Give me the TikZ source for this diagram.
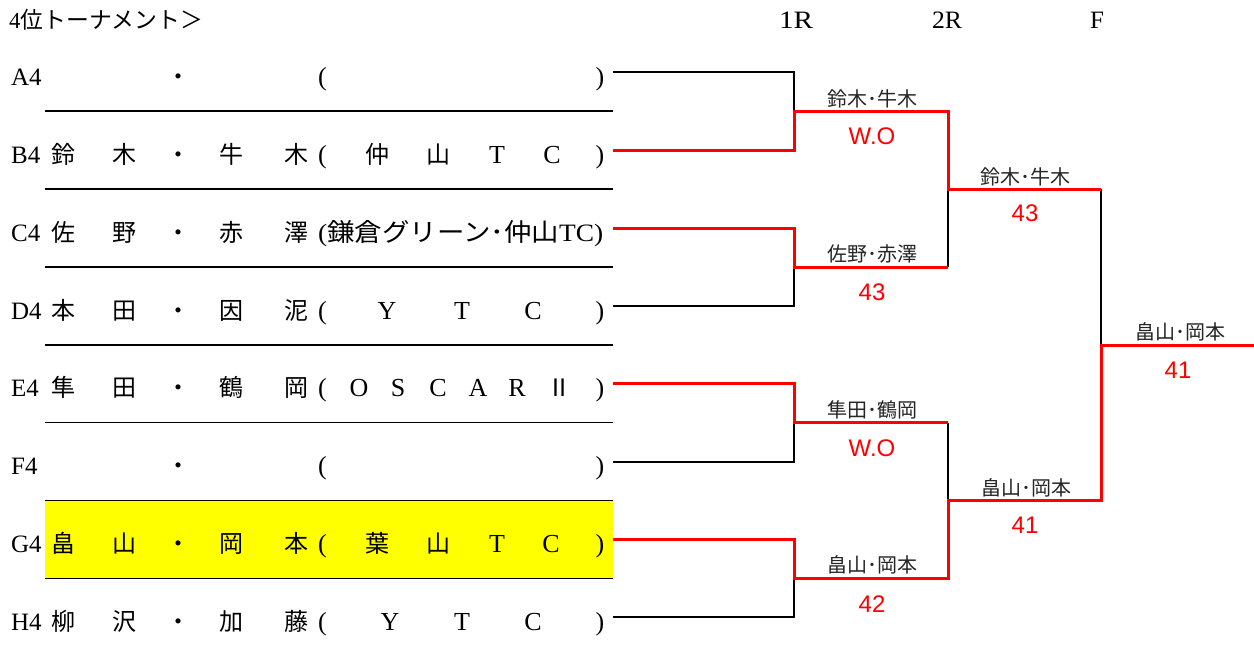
\documentclass[tikz,border=0pt]{standalone}
\usepackage{fontspec}
\usepackage{graphicx}
\setmainfont{Liberation Serif}
\newfontfamily\jp{Noto Sans CJK JP}
\newfontfamily\arial{Liberation Sans}
\definecolor{hl}{RGB}{255,255,0}
\definecolor{wred}{RGB}{255,0,0}
\tikzset{
  rowlbl/.style={anchor=base west, inner sep=0pt, font=\fontsize{25}{25}\selectfont},
  cj/.style={anchor=base, inner sep=0pt, font=\jp\fontsize{24}{24}\selectfont},
  lt/.style={anchor=base, inner sep=0pt, font=\fontsize{26}{26}\selectfont},
  sepline/.style={line width=1.3pt, black},
  blk/.style={line width=2pt, black},
  win/.style={line width=3pt, wred, line join=miter},
  mlbl/.style={anchor=base, inner sep=0pt, font=\jp\fontsize{20}{20}\selectfont, text=black!85},
  score/.style={anchor=base, inner sep=0pt, font=\arial\fontsize{24}{24}\selectfont, text=wred},
  hdr/.style={anchor=base, inner sep=0pt, font=\fontsize{25}{25}\selectfont},
}
\begin{document}
\begin{tikzpicture}[x=1pt,y=-1pt]
\useasboundingbox[fill=white] (0,0) rectangle (1254,651);
% highlight of winning pair
\fill[hl] (45,500.5) rectangle (613,578.4);
% table rules
\foreach \y in {111,189,267,345,422.6,500.5,578.4}
  \draw[sepline] (45,\y) -- (613,\y);
% title and round headers
\node[anchor=base west, inner sep=0pt] (title) at (9,28)
  {\resizebox{194pt}{\height}{\fontsize{23}{23}\selectfont 4\jp 位トーナメント＞}};
\node[hdr] (h1) at (796,28) {\resizebox{34pt}{\height}{1R}};
\node[hdr] (h2) at (947,28) {\resizebox{30pt}{\height}{2R}};
\node[hdr] (h3) at (1097,28) {F};
% row labels, dots, parentheses
\foreach \r/\y in {A/85,B/163,C/241,D/319,E/396.6,F/474.5,G/552.4,H/630.3}{
  \node[rowlbl] (lab\r) at (11,\y) {\r4};
  \node[cj] (dot\r) at (178,\y) {・};
}
\foreach \r/\y in {A/85,B/163,D/319,E/396.6,F/474.5,G/552.4,H/630.3}{
  \node[lt] (op\r) at (322.5,\y) {(};
  \node[lt] (cp\r) at (600,\y) {)};
}
% player names
\foreach \r/\y/\a/\b/\c/\d in {B/163/鈴/木/牛/木, C/241/佐/野/赤/澤, D/319/本/田/因/泥,
    E/396.6/隼/田/鶴/岡, G/552.4/畠/山/岡/本, H/630.3/柳/沢/加/藤}{
  \node[cj] (na\r) at (63,\y) {\a};
  \node[cj] (nb\r) at (124,\y) {\b};
  \node[cj] (nc\r) at (231,\y) {\c};
  \node[cj] (nd\r) at (296,\y) {\d};
}
% clubs
\foreach \s/\t/\x [count=\i] in {cj/仲/377, cj/山/438, lt/T/497, lt/C/552}
  \node[\s] (clB\i) at (\x,163) {\t};
\node[anchor=base west, inner sep=0pt] (clC) at (318,241)
  {\resizebox{285pt}{\height}{\fontsize{25}{25}\selectfont (\jp 鎌倉グリーン･仲山\rmfamily TC)}};
\foreach \t/\x [count=\i] in {Y/387, T/462, C/533}
  \node[lt] (clD\i) at (\x,319) {\t};
\foreach \s/\t/\x [count=\i] in {lt/O/359, lt/S/398, lt/C/438, lt/A/478, lt/R/517, cj/Ⅱ/559}
  \node[\s] (clE\i) at (\x,396.6) {\t};
\foreach \s/\t/\x [count=\i] in {cj/葉/377, cj/山/438, lt/T/497, lt/C/551}
  \node[\s] (clG\i) at (\x,552.4) {\t};
\foreach \t/\x [count=\i] in {Y/390, T/462, C/533}
  \node[lt] (clH\i) at (\x,630.3) {\t};
% bracket points
\foreach \r/\y in {A/72,B/150,C/228,D/306,E/383.6,F/461.5,G/539.4,H/617.3}
  \coordinate (e\r) at (613,\y);
\coordinate (m1) at (794,111);   \coordinate (t1) at (948,111);
\coordinate (m2) at (794,267);   \coordinate (t2) at (948,267);
\coordinate (m3) at (794,422.6); \coordinate (t3) at (948,422.6);
\coordinate (m4) at (794,578.4); \coordinate (t4) at (948,578.4);
\coordinate (q1) at (948,189);   \coordinate (r1) at (1101,189);
\coordinate (q2) at (948,500.5); \coordinate (r2) at (1101,500.5);
\coordinate (f)  at (1101,345);  \coordinate (fe) at (1254,345);
% losing lines
\draw[blk] (eA) -| (m1);
\draw[blk] (eD) -| (m2);
\draw[blk] (eF) -| (m3);
\draw[blk] (eH) -| (m4);
\draw[blk] (t2) -- (q1);
\draw[blk] (t3) -- (q2);
\draw[blk] (r1) -- (f);
% winning lines
\draw[win] (eB) -| (m1) -- (t1) -- (q1) -- (r1);
\draw[win] (eC) -| (m2) -- (t2);
\draw[win] (eE) -| (m3) -- (t3);
\draw[win] (eG) -| (m4) -- (t4) -- (q2) -- (r2) -- (f) -- (fe);
% winners and scores
\node[mlbl] (w1) at (872,106) {鈴木･牛木};
\node[score] (s1) at (872,144) {W.O};
\node[mlbl] (w2) at (872,261) {佐野･赤澤};
\node[score] (s2) at (872,300) {43};
\node[mlbl] (w5) at (872,417) {隼田･鶴岡};
\node[score] (s5) at (872,456) {W.O};
\node[mlbl] (w7) at (872,572) {畠山･岡本};
\node[score] (s7) at (872,612) {42};
\node[mlbl] (w3) at (1025,184) {鈴木･牛木};
\node[score] (s3) at (1025,221) {43};
\node[mlbl] (w6) at (1026,495) {畠山･岡本};
\node[score] (s6) at (1025,533) {41};
\node[mlbl] (w4) at (1180,339) {畠山･岡本};
\node[score] (s4) at (1178,378) {41};
\end{tikzpicture}
\end{document}
